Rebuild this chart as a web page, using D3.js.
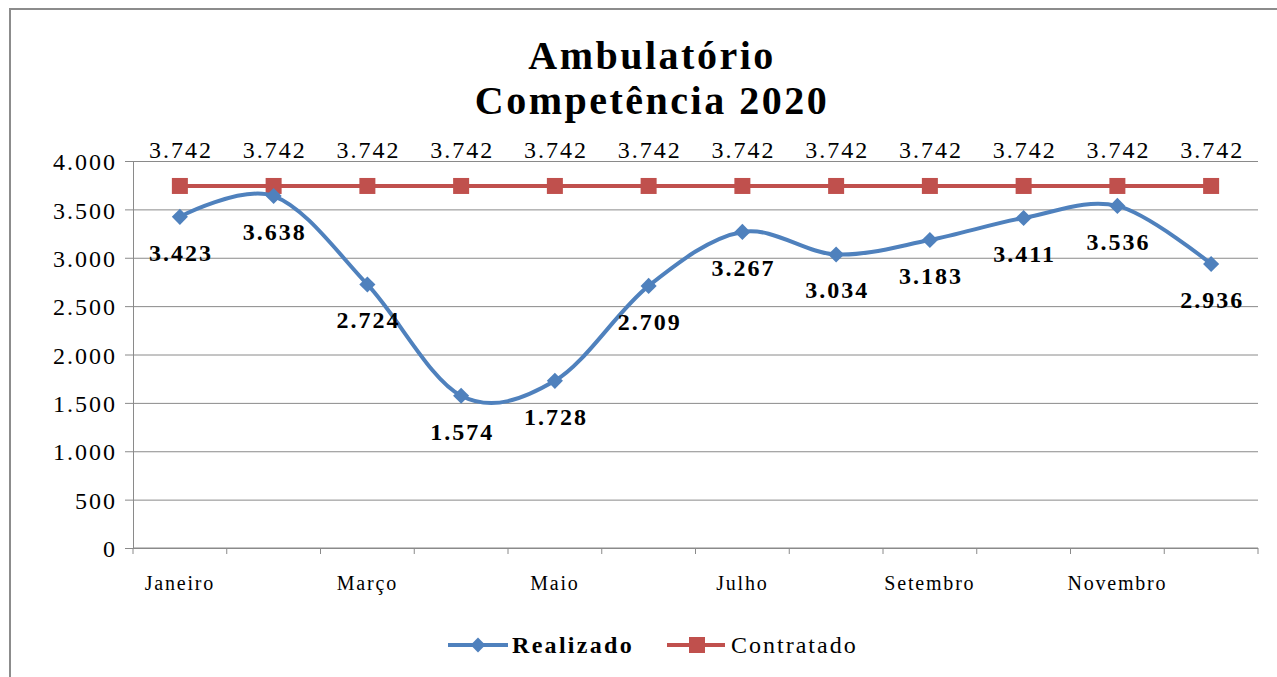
<!DOCTYPE html>
<html>
<head>
<meta charset="utf-8">
<script src="https://cdn.jsdelivr.net/npm/d3@7"></script>
<style>
  body { margin: 0; background: #fff; }
  svg text { font-family: "Liberation Serif", "Times New Roman", serif; }
</style>
</head>
<body>
<div id="chart"></div>
<script>
const months = ["Janeiro", "Fevereiro", "Março", "Abril", "Maio", "Junho",
                "Julho", "Agosto", "Setembro", "Outubro", "Novembro", "Dezembro"];
const realizado = [3423, 3638, 2724, 1574, 1728, 2709, 3267, 3034, 3183, 3411, 3536, 2936];
const contratado = [3742, 3742, 3742, 3742, 3742, 3742, 3742, 3742, 3742, 3742, 3742, 3742];
const yTicks = [0, 500, 1000, 1500, 2000, 2500, 3000, 3500, 4000];
const titleLines = ["Ambulatório", "Competência 2020"];

const width = 1277, height = 677;
const margin = { left: 133, right: 19, top: 161, bottom: 129 };
const innerWidth = width - margin.left - margin.right;
const innerHeight = height - margin.top - margin.bottom;

const blue = "#4f81bd";
const red = "#c0504d";
const gridColor = "#8a8a8a";

const svg = d3.select("#chart").append("svg")
              .attr("width", width)
              .attr("height", height);

// chart frame
svg.append("rect")
   .attr("x", 10).attr("y", 9)
   .attr("width", width + 20).attr("height", height + 20)
   .attr("fill", "none")
   .attr("stroke", "#8c8c8c")
   .attr("stroke-width", 2);

// title
svg.append("g")
   .selectAll("text")
   .data(titleLines)
   .enter().append("text")
   .attr("x", 652)
   .attr("y", (d, i) => 69 + i * 45)
   .attr("text-anchor", "middle")
   .attr("font-size", 40)
   .attr("font-weight", "bold")
   .attr("letter-spacing", 2.5)
   .text(d => d);

const x = d3.scaleBand()
            .domain(months)
            .range([0, innerWidth]);

const y = d3.scaleLinear()
            .domain([0, 4000])
            .range([innerHeight, 0]);

const g = svg.append("g")
             .attr("transform", `translate(${margin.left},${margin.top})`);

// y axis + gridlines
const yAxis = g.append("g")
               .call(d3.axisLeft(y)
                       .tickValues(yTicks)
                       .tickSize(-innerWidth)
                       .tickSizeOuter(0)
                       .tickPadding(16)
                       .tickFormat(d => d3.format(",")(d).replace(/,/g, ".")));

yAxis.select(".domain").attr("stroke", gridColor);
yAxis.selectAll(".tick line")
     .attr("stroke", gridColor)
     .attr("x1", -8);
yAxis.selectAll(".tick text")
     .attr("font-size", 24)
     .attr("letter-spacing", 2)
     .attr("fill", "#000")
     .attr("dy", "0.36em")
     .style("font-family", "'Liberation Serif', serif");

// x axis: ticks at band boundaries, labels on odd months
const xAxisG = g.append("g")
                .attr("transform", `translate(0,${innerHeight})`);

xAxisG.append("line")
      .attr("x1", 0).attr("x2", innerWidth)
      .attr("stroke", gridColor);

xAxisG.selectAll("line.tick")
      .data(months.concat([null]))
      .enter().append("line")
      .attr("class", "tick")
      .attr("x1", (d, i) => i * x.step())
      .attr("x2", (d, i) => i * x.step())
      .attr("y1", 0).attr("y2", 6)
      .attr("stroke", gridColor);

xAxisG.selectAll("text")
      .data(months.filter((d, i) => i % 2 === 0))
      .enter().append("text")
      .attr("x", d => x(d) + x.bandwidth() / 2)
      .attr("y", 42)
      .attr("text-anchor", "middle")
      .attr("font-size", 20)
      .attr("letter-spacing", 1.8)
      .text(d => d);

const cx = (d, i) => x(months[i]) + x.bandwidth() / 2;

// Contratado series
const flatLine = d3.line()
                   .x((d, i) => cx(d, i))
                   .y(d => y(d));

g.append("path")
 .datum(contratado)
 .attr("d", flatLine)
 .attr("fill", "none")
 .attr("stroke", red)
 .attr("stroke-width", 4);

g.selectAll("rect.sq")
 .data(contratado)
 .enter().append("rect")
 .attr("class", "sq")
 .attr("x", (d, i) => cx(d, i) - 8)
 .attr("y", d => y(d) - 8)
 .attr("width", 16)
 .attr("height", 16)
 .attr("fill", red);

g.selectAll("text.lc")
 .data(contratado)
 .enter().append("text")
 .attr("class", "lc")
 .attr("x", (d, i) => cx(d, i) + 1)
 .attr("y", d => y(d) - 28)
 .attr("text-anchor", "middle")
 .attr("font-size", 24)
 .attr("letter-spacing", 2)
 .text(d => d3.format(",")(d).replace(",", "."));

// Realizado series (smoothed)
const smoothLine = d3.line()
                     .x((d, i) => cx(d, i))
                     .y(d => y(d))
                     .curve(d3.curveCardinal.tension(0));

g.append("path")
 .datum(realizado)
 .attr("d", smoothLine)
 .attr("fill", "none")
 .attr("stroke", blue)
 .attr("stroke-width", 4);

const diamond = d3.symbol().type(d3.symbolSquare).size(130);

g.selectAll("path.dm")
 .data(realizado)
 .enter().append("path")
 .attr("class", "dm")
 .attr("d", diamond)
 .attr("transform", (d, i) => `translate(${cx(d, i)},${y(d)}) rotate(45)`)
 .attr("fill", blue);

g.selectAll("text.lr")
 .data(realizado)
 .enter().append("text")
 .attr("class", "lr")
 .attr("x", (d, i) => cx(d, i) + 1)
 .attr("y", d => y(d) + 44)
 .attr("text-anchor", "middle")
 .attr("font-size", 24)
 .attr("font-weight", "bold")
 .attr("letter-spacing", 2)
 .text(d => d3.format(",")(d).replace(",", "."));

// legend
const legend = svg.append("g")
                  .attr("transform", "translate(0,645)");

legend.append("line")
      .attr("x1", 448).attr("x2", 508)
      .attr("stroke", blue).attr("stroke-width", 4);
legend.append("path")
      .attr("d", d3.symbol().type(d3.symbolSquare).size(110))
      .attr("transform", "translate(478,0) rotate(45)")
      .attr("fill", blue);
legend.append("text")
      .attr("x", 512).attr("y", 8)
      .attr("font-size", 24)
      .attr("font-weight", "bold")
      .attr("letter-spacing", 2.3)
      .text("Realizado");

legend.append("line")
      .attr("x1", 667).attr("x2", 725)
      .attr("stroke", red).attr("stroke-width", 4);
legend.append("rect")
      .attr("x", 689).attr("y", -8)
      .attr("width", 16).attr("height", 16)
      .attr("fill", red);
legend.append("text")
      .attr("x", 731).attr("y", 8)
      .attr("font-size", 24)
      .attr("letter-spacing", 2)
      .text("Contratado");
</script>
</body>
</html>
